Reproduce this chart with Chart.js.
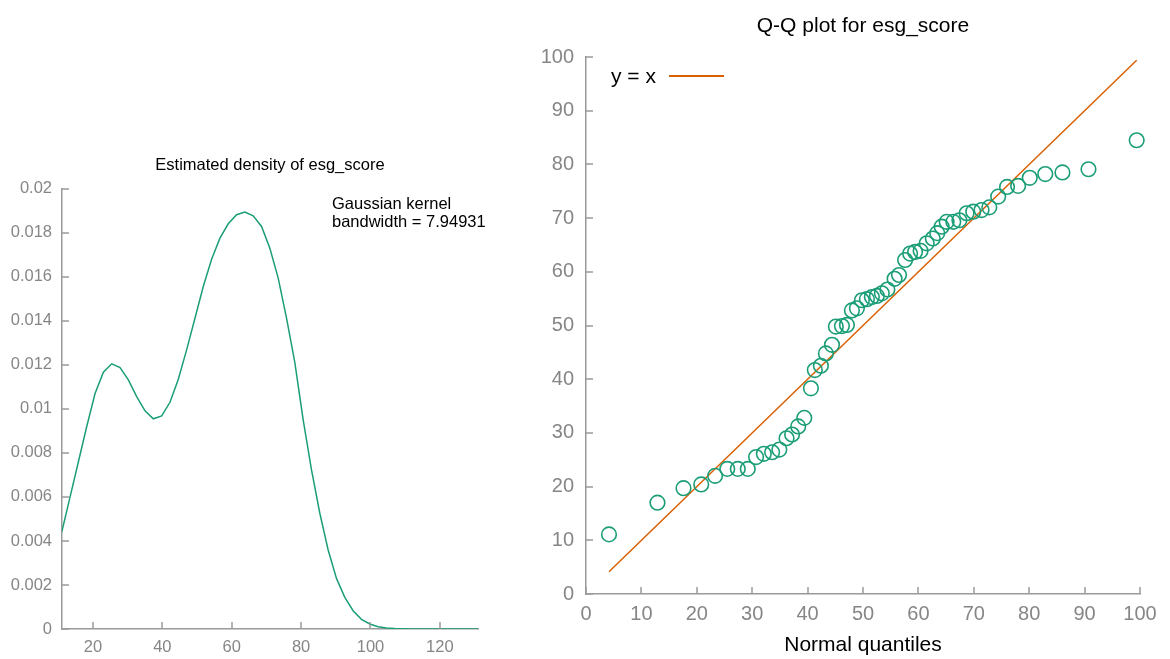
<!DOCTYPE html>
<html><head><meta charset="utf-8">
<script src="https://cdn.jsdelivr.net/npm/chart.js@4"></script>
<style>
html,body{margin:0;padding:0;background:#fff;width:1170px;height:659px;overflow:hidden;font-family:"Liberation Sans",Arial,sans-serif;}
canvas{position:absolute;top:0;}
#c1{left:0;} #c2{left:520px;}
.note{position:absolute;font-size:16.5px;line-height:18px;color:#000;white-space:nowrap;}
.lgline{position:absolute;left:669px;top:75px;width:55px;height:1.5px;background:#d95f02;}
</style></head><body>
<canvas id="c1" width="520" height="659"></canvas>
<canvas id="c2" width="650" height="659"></canvas>
<div class="note" style="left:332px;top:194px;">Gaussian kernel<br>bandwidth = 7.94931</div>
<div class="note" style="left:611px;top:63px;font-size:21px;line-height:26px;">y = x</div>
<div class="lgline"></div>
<script>
// ---- Density estimate (left) ----
const densityX = [11.0, 13.4, 15.8, 18.2, 20.6, 23.0, 25.4, 27.8, 30.2, 32.6, 35.0, 37.4, 39.8, 42.2, 44.6, 47.0, 49.4, 51.8, 54.2, 56.6, 59.0, 61.4, 63.8, 66.2, 68.6, 71.0, 73.4, 75.8, 78.2, 80.6, 83.0, 85.4, 87.8, 90.2, 92.6, 95.0, 97.4, 99.8, 102.2, 104.6, 107.0, 109.4, 111.8, 114.2, 116.6, 119.0, 121.4, 123.8, 126.2, 128.6, 131.0];
const densityY = [0.0044, 0.0060, 0.0076, 0.0092, 0.0107, 0.01167, 0.01205, 0.01188, 0.01132, 0.01056, 0.00991, 0.00955, 0.00968, 0.0103, 0.01135, 0.01268, 0.01412, 0.01556, 0.0168, 0.01776, 0.01841, 0.01882, 0.01894, 0.01877, 0.01829, 0.0173, 0.01594, 0.01412, 0.0121, 0.0095, 0.00723, 0.00526, 0.00359, 0.0023, 0.00144, 0.00083, 0.00044, 0.00023, 0.0001, 0.00005, 0.00002, 0.00001, 0.000005, 0.000002, 0.000001, 0, 0, 0, 0, 0, 0];
const densityXTicks = [20, 40, 60, 80, 100, 120];
const densityYTicks = [0, 0.002, 0.004, 0.006, 0.008, 0.01, 0.012, 0.014, 0.016, 0.018, 0.02];

// ---- Q-Q plot (right) ----
const qqX = [4.15, 12.9, 17.6, 20.8, 23.3, 25.5, 27.4, 29.2, 30.7, 32.1, 33.6, 34.9, 36.2, 37.2, 38.3, 39.4, 40.6, 41.3, 42.4, 43.3, 44.4, 45.1, 46.2, 47.1, 48.0, 48.9, 49.8, 50.7, 51.6, 52.5, 53.4, 54.4, 55.7, 56.5, 57.6, 58.5, 59.4, 60.4, 61.5, 62.6, 63.4, 64.2, 65.1, 66.3, 67.4, 68.7, 69.9, 71.4, 72.8, 74.4, 76.0, 78.0, 80.1, 82.9, 86.0, 90.7, 99.4];
const qqY = [11.1, 17.0, 19.7, 20.4, 22.0, 23.3, 23.3, 23.3, 25.5, 26.1, 26.4, 26.9, 29.0, 29.7, 31.2, 32.8, 38.3, 41.7, 42.5, 44.8, 46.4, 49.8, 49.9, 50.1, 52.8, 53.2, 54.7, 54.9, 55.3, 55.5, 56.0, 56.7, 58.7, 59.4, 62.2, 63.4, 63.7, 63.9, 65.3, 66.2, 67.2, 68.4, 69.3, 69.3, 69.6, 70.9, 71.2, 71.5, 72.0, 74.0, 75.8, 76.0, 77.5, 78.2, 78.5, 79.1, 84.5];
const qqTicks = [0, 10, 20, 30, 40, 50, 60, 70, 80, 90, 100];

const GREEN = '#1b9e77', ORANGE = '#d95f02', AXIS = '#9a9a9a', TICKTXT = '#868686';
const FONT = '"Liberation Sans", Arial, sans-serif';

const inwardTicks = {
  id: 'inwardTicks',
  afterDraw(chart, args, opts) {
    const ctx = chart.ctx, ca = chart.chartArea, L = opts.len || 7;
    ctx.save();
    ctx.strokeStyle = AXIS; ctx.lineWidth = 1.5;
    const xs = chart.scales.x, ys = chart.scales.y;
    xs.ticks.forEach(t => {
      const p = Math.round(xs.getPixelForValue(t.value));
      ctx.beginPath(); ctx.moveTo(p, ca.bottom); ctx.lineTo(p, ca.bottom - L); ctx.stroke();
    });
    ys.ticks.forEach(t => {
      const p = Math.round(ys.getPixelForValue(t.value));
      ctx.beginPath(); ctx.moveTo(ca.left, p); ctx.lineTo(ca.left + L, p); ctx.stroke();
    });
    ctx.restore();
  }
};

function setTicks(arr) { return s => { s.ticks = arr.map(v => ({ value: v })); }; }

new Chart(document.getElementById('c1'), {
  type: 'line',
  data: { datasets: [{
    data: densityX.map((x, i) => ({ x, y: densityY[i] })),
    borderColor: GREEN, borderWidth: 1.5, pointRadius: 0, tension: 0, fill: false
  }]},
  options: {
    responsive: false, devicePixelRatio: 1, animation: false, events: [],
    layout: { padding: { left: 0, right: 42, top: 0, bottom: 0 } },
    plugins: {
      legend: { display: false }, tooltip: { enabled: false },
      title: { display: true, fullSize: false, text: 'Estimated density of esg_score', color: '#000',
        font: { family: FONT, size: 16.5, weight: 'normal', lineHeight: 1.2 }, padding: { top: 156, bottom: 13 } },
      inwardTicks: { len: 7 }
    },
    scales: {
      x: { type: 'linear', min: 11.07, max: 131,
        afterBuildTicks: setTicks(densityXTicks),
        afterFit: s => { s.height = 30; },
        grid: { display: false, drawTicks: false, tickLength: 0 },
        border: { display: true, color: AXIS, width: 1.5 },
        ticks: { color: TICKTXT, font: { family: FONT, size: 16.5 }, padding: 9, maxRotation: 0 } },
      y: { type: 'linear', min: 0, max: 0.02,
        afterBuildTicks: setTicks(densityYTicks),
        afterFit: s => { s.width = 62; },
        grid: { display: false, drawTicks: false, tickLength: 0 },
        border: { display: true, color: AXIS, width: 1.5 },
        ticks: { color: TICKTXT, font: { family: FONT, size: 16.5 }, padding: 10,
          callback: v => String(+(+v).toFixed(4)) } }
    }
  },
  plugins: [inwardTicks]
});

const qqLo = Math.min(...qqX), qqHi = Math.max(...qqX);
new Chart(document.getElementById('c2'), {
  type: 'scatter',
  data: { datasets: [
    { type: 'line', data: [{ x: qqLo, y: qqLo }, { x: qqHi, y: qqHi }],
      borderColor: ORANGE, borderWidth: 1.5, pointRadius: 0, fill: false, order: 2, clip: false },
    { type: 'scatter', data: qqX.map((x, i) => ({ x, y: qqY[i] })),
      pointStyle: 'circle', pointRadius: 7.3, borderWidth: 1.6, borderColor: GREEN,
      backgroundColor: 'rgba(0,0,0,0)', order: 1, clip: false }
  ]},
  options: {
    responsive: false, devicePixelRatio: 1, animation: false, events: [],
    layout: { padding: { left: 0, right: 30, top: 0, bottom: 0 } },
    plugins: {
      legend: { display: false }, tooltip: { enabled: false },
      title: { display: true, fullSize: false, text: 'Q-Q plot for esg_score', color: '#000',
        font: { family: FONT, size: 21, weight: 'normal', lineHeight: 1.2 }, padding: { top: 13.4, bottom: 18.4 } },
      inwardTicks: { len: 7 }
    },
    scales: {
      x: { type: 'linear', min: 0, max: 100,
        afterBuildTicks: setTicks(qqTicks),
        afterFit: s => { s.height = 65; },
        grid: { display: false, drawTicks: false, tickLength: 0 },
        border: { display: true, color: AXIS, width: 1.5 },
        title: { display: true, text: 'Normal quantiles', color: '#000',
          font: { family: FONT, size: 21, lineHeight: 1.2 }, padding: { top: 0, bottom: 1 } },
        ticks: { color: TICKTXT, font: { family: FONT, size: 20 }, padding: 8, maxRotation: 0 } },
      y: { type: 'linear', min: 0, max: 100,
        afterBuildTicks: setTicks(qqTicks),
        afterFit: s => { s.width = 66; },
        grid: { display: false, drawTicks: false, tickLength: 0 },
        border: { display: true, color: AXIS, width: 1.5 },
        ticks: { color: TICKTXT, font: { family: FONT, size: 20 }, padding: 12 } }
    }
  },
  plugins: [inwardTicks]
});
</script>
</body></html>
